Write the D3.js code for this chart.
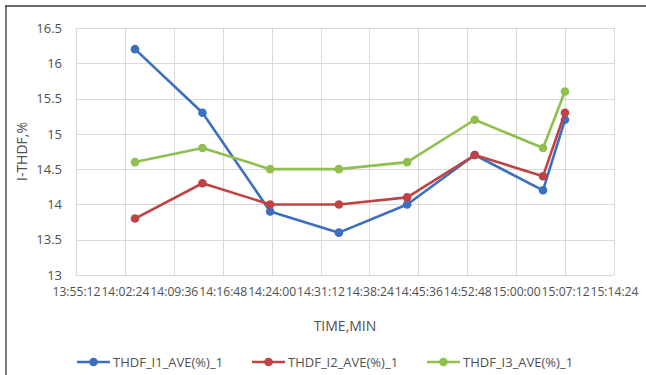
<!DOCTYPE html>
<html>
<head>
<meta charset="utf-8">
<script src="https://cdn.jsdelivr.net/npm/d3@7"></script>
<style>
  html, body { margin: 0; padding: 0; background: #fff; }
  svg { display: block; font-family: "Open Sans", "Noto Sans", sans-serif; }
</style>
</head>
<body>
<svg id="chart" width="646" height="375"></svg>
<script>
// Sample times (HH:MM:SS) and THDF readings per phase
const sampleTimes = ["14:03:53", "14:13:49", "14:23:47", "14:33:54", "14:43:57", "14:53:54", "15:03:57", "15:07:11"];
const thdfI1 = [16.2, 15.3, 13.9, 13.6, 14.0, 14.7, 14.2, 15.2];
const thdfI2 = [13.8, 14.3, 14.0, 14.0, 14.1, 14.7, 14.4, 15.3];
const thdfI3 = [14.6, 14.8, 14.5, 14.5, 14.6, 15.2, 14.8, 15.6];
const seriesNames = ["THDF_I1_AVE(%)_1", "THDF_I2_AVE(%)_1", "THDF_I3_AVE(%)_1"];
const xTickLabels = ["13:55:12", "14:02:24", "14:09:36", "14:16:48", "14:24:00", "14:31:12", "14:38:24", "14:45:36", "14:52:48", "15:00:00", "15:07:12", "15:14:24"];
const yTicks = [13, 13.5, 14, 14.5, 15, 15.5, 16, 16.5];

const colors = ["#3b6fbf", "#bf4342", "#8fbf4f"];
const textColor = "#505050";
const parseT = d3.utcParse("%H:%M:%S");
const fmtT = d3.utcFormat("%H:%M:%S");

const svg = d3.select("#chart");
const plot = { left: 76, right: 614, top: 28, bottom: 275 };

const xTickDates = xTickLabels.map(parseT);
const x = d3.scaleUtc()
  .domain([xTickDates[0], xTickDates[xTickDates.length - 1]])
  .range([plot.left, plot.right]);
const y = d3.scaleLinear().domain([13, 16.5]).range([plot.bottom, plot.top]);

// Outer frame (left and top edges)
svg.append("line").attr("x1", 6).attr("x2", 6).attr("y1", 6).attr("y2", 375)
  .attr("stroke", "#7a7a7a").attr("stroke-width", 2);
svg.append("line").attr("x1", 5).attr("x2", 646).attr("y1", 6).attr("y2", 6)
  .attr("stroke", "#3a3a3a").attr("stroke-width", 1.5);

// Gridlines
const grid = svg.append("g").attr("stroke", "#d9d9d9").attr("stroke-width", 1);
grid.selectAll(".gy").data(yTicks).join("line")
  .attr("x1", plot.left).attr("x2", plot.right)
  .attr("y1", d => Math.round(y(d)) + 0.5).attr("y2", d => Math.round(y(d)) + 0.5);
grid.selectAll(".gx").data(xTickDates).join("line")
  .attr("x1", d => Math.round(x(d)) + 0.5).attr("x2", d => Math.round(x(d)) + 0.5)
  .attr("y1", plot.top).attr("y2", plot.bottom);

// Y axis labels
const yAxis = d3.axisLeft(y).tickValues(yTicks).tickSize(0).tickPadding(14).tickFormat(d3.format("~g"));
const gy = svg.append("g").attr("transform", `translate(${plot.left},0)`).call(yAxis);
gy.select(".domain").remove();
gy.selectAll("text").attr("fill", textColor).style("font-size", "13px")
  .style("font-family", "\"Open Sans\", sans-serif");

// X axis labels
const xAxis = d3.axisBottom(x).tickValues(xTickDates).tickSize(0).tickPadding(12).tickFormat(fmtT);
const gx = svg.append("g").attr("transform", `translate(0,${plot.bottom})`).call(xAxis);
gx.select(".domain").remove();
gx.selectAll("text").attr("fill", textColor).style("font-size", "12px")
  .style("font-family", "\"Open Sans\", sans-serif").attr("textLength", 48).attr("lengthAdjust", "spacingAndGlyphs");

// Axis titles
svg.append("text").attr("x", (plot.left + plot.right) / 2).attr("y", 331)
  .attr("text-anchor", "middle").attr("fill", textColor).style("font-size", "14px").text("TIME,MIN");
svg.append("text").attr("transform", `translate(27,${(plot.top + plot.bottom) / 2}) rotate(-90)`)
  .attr("text-anchor", "middle").attr("fill", textColor).style("font-size", "14px").text("I-THDF,%");

// Series
const times = sampleTimes.map(parseT);
const allSeries = [thdfI1, thdfI2, thdfI3];
const line = d3.line().x(d => x(d.t)).y(d => y(d.v));
allSeries.forEach((vals, i) => {
  const pts = vals.map((v, j) => ({ t: times[j], v }));
  const g = svg.append("g");
  g.append("path").datum(pts).attr("d", line).attr("fill", "none")
    .attr("stroke", colors[i]).attr("stroke-width", 2.6).attr("stroke-linejoin", "round");
  g.selectAll("circle").data(pts).join("circle")
    .attr("cx", d => x(d.t)).attr("cy", d => y(d.v)).attr("r", 4.3).attr("fill", colors[i]);
});

// Legend
const legendX = [77, 252, 427];
const legend = svg.append("g");
seriesNames.forEach((name, i) => {
  const lg = legend.append("g").attr("transform", `translate(${legendX[i]},362)`);
  lg.append("line").attr("x1", 0).attr("x2", 33).attr("y1", 0).attr("y2", 0)
    .attr("stroke", colors[i]).attr("stroke-width", 2.6);
  lg.append("circle").attr("cx", 16.5).attr("cy", 0).attr("r", 4.3).attr("fill", colors[i]);
  lg.append("text").attr("x", 36).attr("y", 4.5).attr("fill", textColor)
    .style("font-size", "13px").text(name);
});
</script>
</body>
</html>
